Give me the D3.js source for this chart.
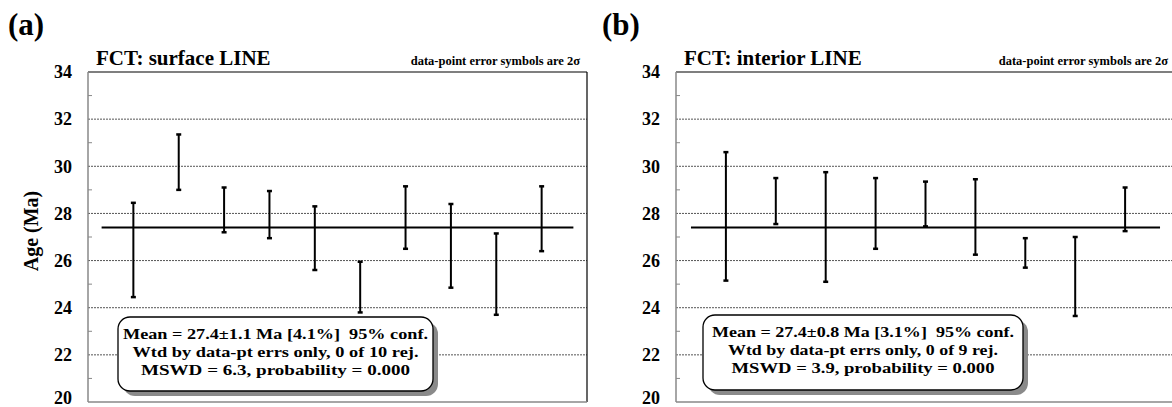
<!DOCTYPE html>
<html>
<head>
<meta charset="utf-8">
<script src="https://cdn.jsdelivr.net/npm/d3@7"></script>
<style>
  body { margin: 0; background: #fff; }
  svg { display: block; font-family: "Liberation Serif", "Times New Roman", serif; font-weight: bold; }
</style>
</head>
<body>
<svg id="chart"></svg>
<script>
// data (2-sigma error bar ends, Ma)
const surfaceHi = [28.45, 31.35, 29.1, 28.95, 28.3, 25.95, 29.15, 28.4, 27.15, 29.15]
const surfaceLo = [24.45, 29.0, 27.2, 26.95, 25.6, 23.8, 26.5, 24.85, 23.7, 26.4]
const interiorHi = [30.6, 29.5, 29.75, 29.5, 29.35, 29.45, 26.95, 27.0, 29.1]
const interiorLo = [25.15, 27.55, 25.1, 26.5, 27.45, 26.25, 25.7, 23.65, 27.25]
const meanSurface = 27.4
const meanInterior = 27.4
const yTicks = [20, 22, 24, 26, 28, 30, 32, 34]
const yMinor = [21, 23, 25, 27, 29, 31, 33]
const panelLetters = ['(a)', '(b)']
const panelTitles = ['FCT: surface LINE', 'FCT: interior LINE']
const boxLinesA = ['Mean = 27.4\u00b11.1 Ma [4.1%]  95% conf.', 'Wtd by data-pt errs only, 0 of 10 rej.', 'MSWD = 6.3, probability = 0.000']
const boxLinesB = ['Mean = 27.4\u00b10.8 Ma [3.1%]  95% conf.', 'Wtd by data-pt errs only, 0 of 9 rej.', 'MSWD = 3.9, probability = 0.000']

const width = 1172
const height = 407

const svg = d3.select('#chart')
  .attr('width', width)
  .attr('height', height)

const plotTop = 72
const plotBottom = 402
const plotWidth = 499

const yScale = d3.scaleLinear()
  .domain([20, 34])
  .range([plotBottom, plotTop])

function drawPanel(p) {
  const g = svg.append('g')
  const left = p.left
  const n = p.hi.length
  const xScale = d3.scaleLinear()
    .domain([0, n + 1])
    .range([left, left + plotWidth])

  // panel letter
  g.append('text')
    .attr('x', p.letterX)
    .attr('y', 35)
    .attr('font-size', 31)
    .text(p.letter)

  // title
  g.append('text')
    .attr('x', left + 8)
    .attr('y', 65)
    .attr('font-size', 21)
    .text(p.title)

  g.append('text')
    .attr('x', left + plotWidth - 7)
    .attr('y', 65)
    .attr('font-size', 12.5)
    .attr('text-anchor', 'end')
    .text('data-point error symbols are 2\u03c3')

  // dotted gridlines
  g.selectAll('.grid')
    .data(yTicks.filter(d => d > 20 && d < 34))
    .enter()
    .append('line')
    .attr('x1', left)
    .attr('x2', left + plotWidth)
    .attr('y1', d => yScale(d))
    .attr('y2', d => yScale(d))
    .attr('stroke', '#555')
    .attr('stroke-width', 1)
    .attr('stroke-dasharray', '2,1')

  // y axis with tick labels
  const yAxis = d3.axisLeft(yScale)
    .tickValues(yTicks)
    .tickSize(0)
    .tickPadding(16)
    .tickFormat(d3.format('d'))
  const ax = g.append('g')
    .attr('transform', 'translate(' + left + ',0)')
    .call(yAxis)
  ax.select('.domain').remove()
  ax.selectAll('text')
    .attr('font-size', 18)
    .attr('font-family', '"Liberation Serif", serif')
    .attr('font-weight', 'bold')
    .attr('fill', '#000')
    .attr('dy', d => d === 20 ? '0.1em' : '0.32em')

  // minor ticks inside
  g.selectAll('.minor')
    .data(yMinor)
    .enter()
    .append('line')
    .attr('x1', left)
    .attr('x2', left + 4)
    .attr('y1', d => yScale(d))
    .attr('y2', d => yScale(d))
    .attr('stroke', '#888')
    .attr('stroke-width', 1)

  // frame
  g.append('line')
    .attr('x1', left).attr('x2', left + plotWidth)
    .attr('y1', plotTop).attr('y2', plotTop)
    .attr('stroke', '#000').attr('stroke-width', 1.2)
  g.append('line')
    .attr('x1', left + plotWidth).attr('x2', left + plotWidth)
    .attr('y1', plotTop).attr('y2', plotBottom)
    .attr('stroke', '#000').attr('stroke-width', 1.2)
  g.append('line')
    .attr('x1', left).attr('x2', left)
    .attr('y1', plotTop).attr('y2', plotBottom)
    .attr('stroke', '#888').attr('stroke-width', 1.5)
  g.append('line')
    .attr('x1', left).attr('x2', left + plotWidth)
    .attr('y1', plotBottom).attr('y2', plotBottom)
    .attr('stroke', '#888').attr('stroke-width', 1.5)

  // weighted mean line
  g.append('line')
    .attr('x1', xScale(0.3))
    .attr('x2', xScale(n + 0.7))
    .attr('y1', yScale(p.mean))
    .attr('y2', yScale(p.mean))
    .attr('stroke', '#000')
    .attr('stroke-width', 2)

  // error bars
  const idx = d3.range(n)
  g.selectAll('.bar')
    .data(idx)
    .enter()
    .append('line')
    .attr('x1', i => xScale(i + 1))
    .attr('x2', i => xScale(i + 1))
    .attr('y1', i => yScale(p.hi[i]))
    .attr('y2', i => yScale(p.lo[i]))
    .attr('stroke', '#000')
    .attr('stroke-width', 2)

  const caps = []
  idx.forEach(i => { caps.push([i, p.hi[i]]); caps.push([i, p.lo[i]]) })
  g.selectAll('.cap')
    .data(caps)
    .enter()
    .append('line')
    .attr('x1', d => xScale(d[0] + 1) - 2.5)
    .attr('x2', d => xScale(d[0] + 1) + 2.5)
    .attr('y1', d => yScale(d[1]))
    .attr('y2', d => yScale(d[1]))
    .attr('stroke', '#000')
    .attr('stroke-width', 2.5)

  // result box
  const b = p.box
  g.append('rect')
    .attr('x', b.x + 5).attr('y', b.y + 5)
    .attr('width', b.w).attr('height', b.h)
    .attr('rx', 12)
    .attr('fill', '#8a8a8a')
  g.append('rect')
    .attr('x', b.x).attr('y', b.y)
    .attr('width', b.w).attr('height', b.h)
    .attr('rx', 12)
    .attr('fill', '#fff')
    .attr('stroke', '#000')
    .attr('stroke-width', 1.3)
  g.selectAll('.boxtext')
    .data(p.lines)
    .enter()
    .append('text')
    .attr('x', b.x + b.w / 2)
    .attr('y', (d, i) => b.y + 22 + i * 18)
    .attr('text-anchor', 'middle')
    .attr('font-size', 15.5)
    .attr('xml:space', 'preserve')
    .attr('textLength', (d, i) => b.tl[i])
    .attr('lengthAdjust', 'spacingAndGlyphs')
    .text(d => d)

  if (p.yLabel) {
    g.append('text')
      .attr('transform', 'translate(38,' + ((plotTop + plotBottom) / 2 - 6) + ') rotate(-90)')
      .attr('text-anchor', 'middle')
      .attr('font-size', 20)
      .text(p.yLabel)
  }
}

drawPanel({
  left: 88, letterX: 8, hi: surfaceHi, lo: surfaceLo, mean: meanSurface,
  letter: panelLetters[0], title: panelTitles[0], lines: boxLinesA, yLabel: 'Age (Ma)',
  box: { x: 118, y: 317, w: 315, h: 74, tl: [305, 286, 269] }
})
drawPanel({
  left: 676, letterX: 602, hi: interiorHi, lo: interiorLo, mean: meanInterior,
  letter: panelLetters[1], title: panelTitles[1], lines: boxLinesB, yLabel: null,
  box: { x: 703, y: 315, w: 320, h: 75, tl: [302, 270, 263] }
})
</script>
</body>
</html>
